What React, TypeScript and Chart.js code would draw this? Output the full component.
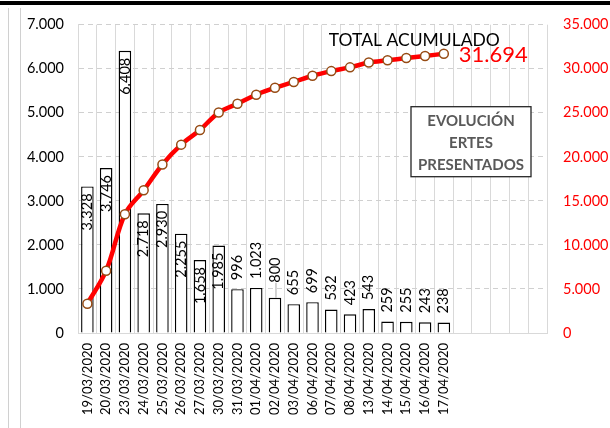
import React, { useEffect, useRef } from "react";
import { Chart, registerables } from "chart.js";

Chart.register(...registerables);

const CATEGORIES = [
  "19/03/2020", "20/03/2020", "23/03/2020", "24/03/2020", "25/03/2020",
  "26/03/2020", "27/03/2020", "30/03/2020", "31/03/2020", "01/04/2020",
  "02/04/2020", "03/04/2020", "06/04/2020", "07/04/2020", "08/04/2020",
  "13/04/2020", "14/04/2020", "15/04/2020", "16/04/2020", "17/04/2020",
  "", "", "", "", "",
];
const DAILY = [3328, 3746, 6408, 2718, 2930, 2255, 1658, 1985, 996, 1023, 800, 655, 699, 532, 423, 543, 259, 255, 243, 238];
const CUMULATIVE = [3328, 7074, 13482, 16200, 19130, 21385, 23043, 25028, 26024, 27047, 27847, 28502, 29201, 29733, 30156, 30699, 30958, 31213, 31456, 31694];
const LEFT_MAX = 7000;
const LEFT_STEP = 1000;
const RIGHT_MAX = 35000;
const RIGHT_STEP = 5000;
const INSIDE_LABEL_MIN = 1500;
const LEADER_LABEL_INDEX = 10;
const TOTAL_TITLE = "TOTAL ACUMULADO";
const BOX_LINES = ["EVOLUCIÓN", "ERTES", "PRESENTADOS"];

const FONT = "Lato";
const fmt = (v: number) => String(v).replace(/\B(?=(\d{3})+(?!\d))/g, ".");

const barLabelPlugin = {
  id: "barLabels",
  afterDatasetDraw(chart: any, args: any) {
    if (args.index !== 1) return;
    const ctx = chart.ctx;
    const meta = chart.getDatasetMeta(1);
    ctx.save();
    ctx.fillStyle = "#000";
    ctx.font = `14.5px ${FONT}`;
    ctx.textBaseline = "middle";
    meta.data.forEach((el: any, i: number) => {
      const v = DAILY[i];
      const text = fmt(v);
      ctx.save();
      if (v >= INSIDE_LABEL_MIN) {
        ctx.translate(el.x, el.y + 7);
        ctx.rotate(-Math.PI / 2);
        ctx.textAlign = "right";
        ctx.fillText(text, 0, 0);
      } else {
        const gap = i === LEADER_LABEL_INDEX ? 15 : 9;
        if (i === LEADER_LABEL_INDEX) {
          ctx.strokeStyle = "#a6a6a6";
          ctx.lineWidth = 1;
          ctx.beginPath();
          ctx.moveTo(el.x + 1, el.y);
          ctx.lineTo(el.x + 1, el.y - gap);
          ctx.stroke();
        }
        ctx.translate(el.x, el.y - gap);
        ctx.rotate(-Math.PI / 2);
        ctx.textAlign = "left";
        ctx.fillText(text, 0, 0);
      }
      ctx.restore();
    });
    ctx.restore();
  },
};

const annotationPlugin = {
  id: "annotations",
  afterDraw(chart: any) {
    const ctx = chart.ctx;
    const area = chart.chartArea;
    const meta = chart.getDatasetMeta(0);
    const last = meta.data[meta.data.length - 1];
    ctx.save();
    // total label
    ctx.fillStyle = "#000";
    ctx.font = `17.5px ${FONT}`;
    ctx.textAlign = "right";
    ctx.textBaseline = "alphabetic";
    ctx.fillText(TOTAL_TITLE, last.x + 56, last.y - 8);
    ctx.fillStyle = "#ff0000";
    ctx.font = `22px ${FONT}`;
    ctx.textAlign = "left";
    ctx.fillText(fmt(CUMULATIVE[CUMULATIVE.length - 1]), last.x + 15, last.y + 8);
    // box
    const bx = area.right - 136;
    const by = area.top + 82;
    const bw = 120;
    const bh = 70;
    ctx.fillStyle = "#fff";
    ctx.fillRect(bx, by, bw, bh);
    ctx.strokeStyle = "#262626";
    ctx.lineWidth = 1.3;
    ctx.strokeRect(bx, by, bw, bh);
    ctx.fillStyle = "#595959";
    ctx.font = `bold 15px ${FONT}`;
    ctx.textAlign = "center";
    ctx.textBaseline = "middle";
    BOX_LINES.forEach((t, i) => {
      ctx.fillText(t, bx + bw / 2, by + 14 + i * 22);
    });
    ctx.restore();
  },
};

export default function App() {
  const ref = useRef<HTMLCanvasElement>(null);
  useEffect(() => {
    const chart = new Chart(ref.current as HTMLCanvasElement, {
      type: "bar",
      data: {
        labels: CATEGORIES,
        datasets: [
          {
            type: "line",
            data: CUMULATIVE,
            yAxisID: "y1",
            borderColor: "#ff0000",
            borderWidth: 4.5,
            tension: 0.35,
            pointRadius: 4.5,
            pointBorderWidth: 1.5,
            pointBackgroundColor: "#ffffff",
            pointBorderColor: "#964b14",
            order: 0,
          } as any,
          {
            type: "bar",
            data: DAILY,
            yAxisID: "y",
            backgroundColor: "#ffffff",
            borderColor: "#000000",
            borderWidth: 1.4,
            barPercentage: 0.67,
            categoryPercentage: 1,
            order: 1,
          },
        ],
      },
      options: {
        responsive: false,
        animation: false,
        layout: { padding: { top: 22, left: 0, right: 0, bottom: 0 } },
        plugins: { legend: { display: false }, tooltip: { enabled: false } },
        scales: {
          x: {
            offset: true,
            grid: { color: "#d9d9d9", offset: true, drawTicks: false },
            border: { color: "#d9d9d9" },
            ticks: {
              autoSkip: false,
              minRotation: 90,
              maxRotation: 90,
              padding: 10,
              color: "#000",
              font: { family: FONT, size: 13 },
            },
            afterFit: (s: any) => { s.height = 95; },
          },
          y: {
            position: "left",
            min: 0,
            max: LEFT_MAX,
            grid: { color: "#d0d0d0", drawTicks: false },
            border: { color: "#d9d9d9", dash: [5, 4] },
            ticks: {
              stepSize: LEFT_STEP,
              padding: 14,
              color: "#000",
              font: { family: FONT, size: 14.5 },
              callback: (v: any) => fmt(Number(v)),
            },
            afterFit: (s: any) => { s.width = 78; },
          },
          y1: {
            position: "right",
            min: 0,
            max: RIGHT_MAX,
            grid: { drawOnChartArea: false, drawTicks: false },
            border: { display: false },
            ticks: {
              stepSize: RIGHT_STEP,
              padding: 16,
              color: "#ff0000",
              font: { family: FONT, size: 14.5 },
              callback: (v: any) => fmt(Number(v)),
            },
            afterFit: (s: any) => { s.width = 63; },
          },
        },
      } as any,
      plugins: [barLabelPlugin, annotationPlugin],
    });
    return () => chart.destroy();
  }, []);

  return (
    <div style={{ position: "absolute", left: 0, top: 0, width: 610, height: 428, background: "#fff" }}>
      <div style={{ position: "absolute", left: 0, top: 1, width: 610, height: 4, background: "#000" }} />
      <div style={{ position: "absolute", left: 8, top: 8, width: 1, height: 420, background: "#d0d0d0" }} />
      <div style={{ position: "absolute", left: 20, top: 8, width: 1, height: 420, background: "#d0d0d0" }} />
      <canvas ref={ref} width={610} height={428} style={{ position: "absolute", left: 0, top: 0, width: 610, height: 428 }} />
    </div>
  );
}
